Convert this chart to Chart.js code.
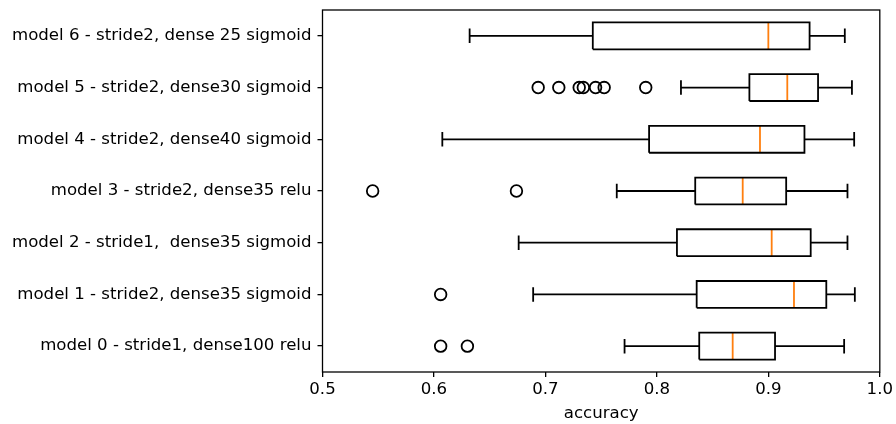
<!DOCTYPE html>
<html>
<head>
<meta charset="utf-8">
<script src="https://cdn.jsdelivr.net/npm/chart.js@4"></script>
<style>
  html, body { margin: 0; padding: 0; background: #fff; }
  canvas { display: block; }
</style>
</head>
<body>
<canvas id="myChart" width="896" height="424"></canvas>
<script>
// one entry per model, model 0 first (drawn at the bottom)
var models = ['model 0 - stride1, dense100 relu', 'model 1 - stride2, dense35 sigmoid', 'model 2 - stride1,  dense35 sigmoid',
  'model 3 - stride2, dense35 relu', 'model 4 - stride2, dense40 sigmoid', 'model 5 - stride2, dense30 sigmoid',
  'model 6 - stride2, dense 25 sigmoid'];
var whiskLow = [0.771, 0.689, 0.676, 0.764, 0.6075, 0.8216, 0.632];
var q1 = [0.838, 0.8357, 0.818, 0.8344, 0.793, 0.883, 0.7425];
var medians = [0.868, 0.923, 0.903, 0.877, 0.8925, 0.917, 0.900];
var q3 = [0.906, 0.952, 0.938, 0.916, 0.9324, 0.9446, 0.937];
var whiskHigh = [0.968, 0.9776, 0.971, 0.971, 0.977, 0.975, 0.9686];
var outliers = [[0.606, 0.630], [0.606], [], [0.545, 0.674], [], [0.6935, 0.712, 0.7303, 0.734, 0.745, 0.7527, 0.790], []];
var xTicks = [0.5, 0.6, 0.7, 0.8, 0.9, 1.0];

var half = 0.26;    // half box height in category units
var capHalf = 0.14;

// build the geometry in data units, the scales do the rest
var boxPts = [], medPts = [], whiskPts = [], outPts = [];
for (var i = 0; i < models.length; i++) {
  var y = i + 1;
  boxPts.push({x: q1[i], y: y - half}, {x: q3[i], y: y - half}, {x: q3[i], y: y + half},
    {x: q1[i], y: y + half}, {x: q1[i], y: y - half}, {x: null, y: null});
  medPts.push({x: medians[i], y: y - half}, {x: medians[i], y: y + half}, {x: null, y: null});
  whiskPts.push({x: whiskLow[i], y: y}, {x: q1[i], y: y}, {x: null, y: null},
    {x: q3[i], y: y}, {x: whiskHigh[i], y: y}, {x: null, y: null},
    {x: whiskLow[i], y: y - capHalf}, {x: whiskLow[i], y: y + capHalf}, {x: null, y: null},
    {x: whiskHigh[i], y: y - capHalf}, {x: whiskHigh[i], y: y + capHalf}, {x: null, y: null});
  outliers[i].forEach(function (v) { outPts.push({x: v, y: y}); });
}

// matplotlib style frame round the plot area
var frame = {
  id: 'frame',
  afterDatasetsDraw: function (chart) {
    var a = chart.chartArea, c = chart.ctx;
    c.save();
    c.strokeStyle = '#000';
    c.lineWidth = 1.3;
    c.strokeRect(a.left, a.top, a.right - a.left, a.bottom - a.top);
    c.restore();
  }
};

Chart.defaults.font.family = '"DejaVu Sans", sans-serif';
Chart.defaults.font.size = 16.6;
Chart.defaults.color = '#000';

var ctx = document.getElementById('myChart').getContext('2d');
var chart = new Chart(ctx, {
  type: 'scatter',
  data: {
    datasets: [
      { data: whiskPts, showLine: true, spanGaps: false, borderColor: '#000', borderWidth: 1.8, pointRadius: 0 },
      { data: boxPts, showLine: true, spanGaps: false, borderColor: '#000', borderWidth: 1.8, pointRadius: 0 },
      { data: medPts, showLine: true, spanGaps: false, borderColor: '#ff7f0e', borderWidth: 1.8, pointRadius: 0 },
      { data: outPts, showLine: false, pointRadius: 5.8, pointBorderWidth: 1.8, pointBorderColor: '#000',
        pointBackgroundColor: 'rgba(0,0,0,0)', pointHoverRadius: 5.8 }
    ]
  },
  options: {
    responsive: false,
    animation: false,
    devicePixelRatio: 1,
    layout: { padding: { top: 10, right: 15, left: 0, bottom: 0 } },
    plugins: { legend: { display: false }, tooltip: { enabled: false } },
    scales: {
      x: {
        type: 'linear', min: 0.5, max: 1.0,
        afterBuildTicks: function (s) { s.ticks = xTicks.map(function (v) { return {value: v}; }); },
        ticks: { callback: function (v) { return v.toFixed(1); }, padding: 3, maxRotation: 0, autoSkip: false },
        grid: { drawOnChartArea: false, drawTicks: true, tickLength: 5, color: '#000', lineWidth: 1.3 },
        border: { display: false },
        title: { display: true, text: 'accuracy', padding: { top: 2, bottom: 0 } },
        afterFit: function (s) { s.height = 52; }
      },
      y: {
        type: 'linear', min: 0.5, max: 7.5,
        afterBuildTicks: function (s) { s.ticks = models.map(function (m, i) { return {value: i + 1}; }); },
        ticks: { callback: function (v) { return models[v - 1]; }, padding: 6, autoSkip: false },
        grid: { drawOnChartArea: false, drawTicks: true, tickLength: 5, color: '#000', lineWidth: 1.3 },
        border: { display: false },
        afterFit: function (s) { s.width = 322.5; s.paddingTop = 0; s.paddingBottom = 0; }
      }
    }
  },
  plugins: [frame]
});
</script>
</body>
</html>
